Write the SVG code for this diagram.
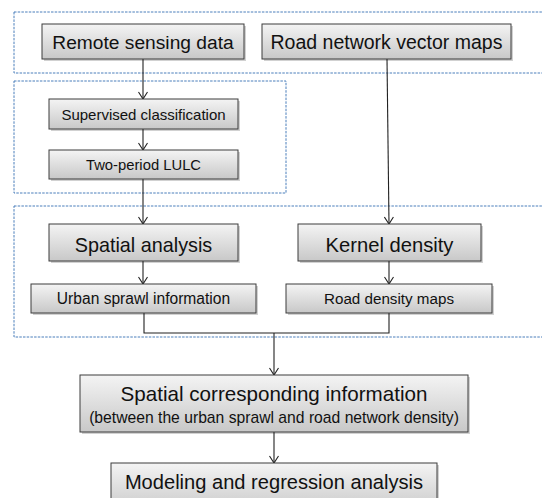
<svg xmlns="http://www.w3.org/2000/svg" width="542" height="498" viewBox="0 0 542 498">
<defs>
<linearGradient id="g" x1="0" y1="0" x2="0" y2="1">
<stop offset="0" stop-color="#f4f4f4"/>
<stop offset="1" stop-color="#c8c8c8"/>
</linearGradient>
<marker id="arr" markerUnits="userSpaceOnUse" markerWidth="12" markerHeight="10" viewBox="0 0 12 10" refX="11" refY="5" orient="auto">
<path d="M4,0.5 L11,5 L4,9.5" fill="none" stroke="#222" stroke-width="1.1"/>
</marker>
</defs>
<style>
.b{fill:url(#g);stroke:#3c3c3c;stroke-width:1}
.s{fill:#000;opacity:0.18}
.d{fill:none;stroke:#4a7ebb;stroke-width:1;stroke-dasharray:2.5 1.2}
.c{fill:none;stroke:#222;stroke-width:1.1}
text{font-family:"Liberation Sans",Arial,sans-serif;fill:#111;text-anchor:middle}
</style>
<rect width="542" height="498" fill="#fff"/>
<g id="groups">
<rect class="d" x="14" y="12" width="560" height="61"/>
<rect class="d" x="14" y="81" width="272" height="112"/>
<rect class="d" x="14" y="206" width="560" height="131"/>
</g>
<g id="connectors">
<path class="c" d="M143,59 V99" marker-end="url(#arr)"/>
<path class="c" d="M143,129 V150" marker-end="url(#arr)"/>
<path class="c" d="M143,179 V224" marker-end="url(#arr)"/>
<path class="c" d="M387,59 L389,224" marker-end="url(#arr)"/>
<path class="c" d="M143,261 V284" marker-end="url(#arr)"/>
<path class="c" d="M389,261 V284" marker-end="url(#arr)"/>
<path class="c" d="M144,313 V333 H389 V313"/>
<path class="c" d="M274,333 V375" marker-end="url(#arr)"/>
<path class="c" d="M274,432 V463" marker-end="url(#arr)"/>
</g>
<g id="remote">
<rect class="s" x="44" y="26" width="202" height="35"/>
<rect class="b" x="42" y="24" width="202" height="35"/>
<text x="143" y="49" font-size="19.2">Remote sensing data</text>
</g>
<g id="roadvector">
<rect class="s" x="264" y="26" width="249" height="35"/>
<rect class="b" x="262" y="24" width="249" height="35"/>
<text x="386.5" y="49" font-size="19.5">Road network vector maps</text>
</g>
<g id="supervised">
<rect class="s" x="51" y="101" width="189" height="30"/>
<rect class="b" x="49" y="99" width="189" height="30"/>
<text x="143.5" y="120" font-size="15">Supervised classification</text>
</g>
<g id="lulc">
<rect class="s" x="51" y="152" width="189" height="29"/>
<rect class="b" x="49" y="150" width="189" height="29"/>
<text x="143.5" y="170" font-size="14.8">Two-period LULC</text>
</g>
<g id="spatial">
<rect class="s" x="51" y="226" width="189" height="37"/>
<rect class="b" x="49" y="224" width="189" height="37"/>
<text x="143.5" y="252" font-size="19.8">Spatial analysis</text>
</g>
<g id="kernel">
<rect class="s" x="300" y="226" width="183" height="37"/>
<rect class="b" x="298" y="224" width="183" height="37"/>
<text x="389.5" y="252" font-size="20.2">Kernel density</text>
</g>
<g id="urban">
<rect class="s" x="33" y="286" width="225" height="29"/>
<rect class="b" x="31" y="284" width="225" height="29"/>
<text x="143.5" y="304" font-size="15.6">Urban sprawl information</text>
</g>
<g id="roaddensity">
<rect class="s" x="288" y="286" width="206" height="29"/>
<rect class="b" x="286" y="284" width="206" height="29"/>
<text x="389" y="304" font-size="15.2">Road density maps</text>
</g>
<g id="corresponding">
<rect class="s" x="82" y="377" width="388" height="57"/>
<rect class="b" x="80" y="375" width="388" height="57"/>
<text x="274" y="401" font-size="20.6">Spatial corresponding information</text>
<text x="274" y="423" font-size="15.7">(between the urban sprawl and road network density)</text>
</g>
<g id="modeling">
<rect class="s" x="113" y="465" width="326" height="50"/>
<rect class="b" x="111" y="463" width="326" height="50"/>
<text x="274" y="489" font-size="20.1">Modeling and regression analysis</text>
</g>
</svg>
